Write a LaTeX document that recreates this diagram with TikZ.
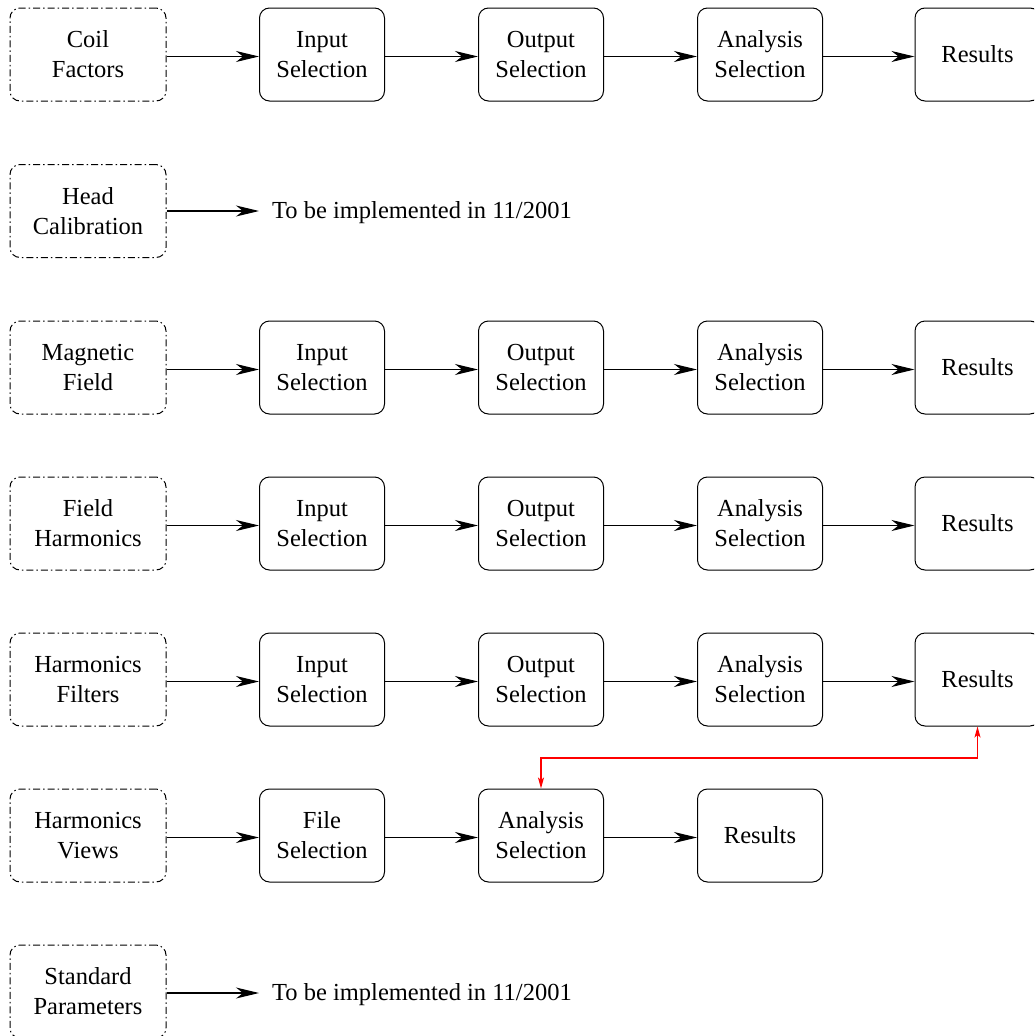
\documentclass[tikz,border=0pt]{standalone}
\usepackage{fontspec}
\setmainfont{Liberation Serif}
\usetikzlibrary{arrows.meta}
\tikzset{
  srcbox/.style={draw, line width=1pt, rounded corners=10pt,
    dash pattern=on 7pt off 3pt on 1.5pt off 3pt,
    minimum width=156pt, minimum height=93pt, inner sep=0pt, align=center,
    font=\fontsize{24.5pt}{30pt}\selectfont},
  procbox/.style={draw, line width=1pt, rounded corners=10pt,
    minimum width=125pt, minimum height=93pt, inner sep=0pt, align=center,
    font=\fontsize{24.5pt}{30pt}\selectfont},
  note/.style={anchor=west, inner sep=0pt, font=\fontsize{24.5pt}{30pt}\selectfont},
  flow/.style={line width=1.1pt, -{Stealth[length=23pt,width=11pt,inset=7pt]}},
  link/.style={red, line width=1.1pt, {Stealth[length=11pt,width=6pt,inset=2.5pt]}-{Stealth[length=11pt,width=6pt,inset=2.5pt]}}
}
\begin{document}
\begin{tikzpicture}[x=1pt,y=-1pt]
\clip (0,0) rectangle (1034,1036);
\useasboundingbox (0,0) rectangle (1034,1036);
% row 1
\node[srcbox]  (r1a) at (88,54.5) {Coil\\Factors};
\node[procbox] (r1b) at (322,54.5) {Input\\Selection};
\node[procbox] (r1c) at (541,54.5) {Output\\Selection};
\node[procbox] (r1d) at (760,54.5) {Analysis\\Selection};
\node[procbox] (r1e) at (977.5,54.5) {Results};
% row 2
\node[srcbox]  (r2a) at (88,211) {Head\\Calibration};
\node[note]    (r2t) at (272,213) {To be implemented in 11/2001};
\coordinate (r2end) at (259,211);
% row 3
\node[srcbox]  (r3a) at (88,367.5) {Magnetic\\Field};
\node[procbox] (r3b) at (322,367.5) {Input\\Selection};
\node[procbox] (r3c) at (541,367.5) {Output\\Selection};
\node[procbox] (r3d) at (760,367.5) {Analysis\\Selection};
\node[procbox] (r3e) at (977.5,367.5) {Results};
% row 4
\node[srcbox]  (r4a) at (88,523.5) {Field\\Harmonics};
\node[procbox] (r4b) at (322,523.5) {Input\\Selection};
\node[procbox] (r4c) at (541,523.5) {Output\\Selection};
\node[procbox] (r4d) at (760,523.5) {Analysis\\Selection};
\node[procbox] (r4e) at (977.5,523.5) {Results};
% row 5
\node[srcbox]  (r5a) at (88,679.5) {Harmonics\\Filters};
\node[procbox] (r5b) at (322,679.5) {Input\\Selection};
\node[procbox] (r5c) at (541,679.5) {Output\\Selection};
\node[procbox] (r5d) at (760,679.5) {Analysis\\Selection};
\node[procbox] (r5e) at (977.5,679.5) {Results};
% row 6
\node[srcbox]  (r6a) at (88,835.5) {Harmonics\\Views};
\node[procbox] (r6b) at (322,835.5) {File\\Selection};
\node[procbox] (r6c) at (541,835.5) {Analysis\\Selection};
\node[procbox] (r6d) at (760,835.5) {Results};
% row 7
\node[srcbox]  (r7a) at (88,991.5) {Standard\\Parameters};
\node[note]    (r7t) at (272,995) {To be implemented in 11/2001};
\coordinate (r7end) at (259,993);
% connectors
\foreach \r in {1,3,4,5}{
  \draw[flow] ([yshift=-2pt]r\r a.east) -- ([yshift=-2pt]r\r b.west);
  \draw[flow] ([yshift=-2pt]r\r b.east) -- ([yshift=-2pt]r\r c.west);
  \draw[flow] ([yshift=-2pt]r\r c.east) -- ([yshift=-2pt]r\r d.west);
  \draw[flow] ([yshift=-2pt]r\r d.east) -- ([yshift=-2pt]r\r e.west);
}
\draw[flow] ([yshift=-2pt]r6a.east) -- ([yshift=-2pt]r6b.west);
\draw[flow] ([yshift=-2pt]r6b.east) -- ([yshift=-2pt]r6c.west);
\draw[flow] ([yshift=-2pt]r6c.east) -- ([yshift=-2pt]r6d.west);
\draw[flow] (r2a.east) -- (r2end);
\draw[flow] (r7a.east |- r7end) -- (r7end);
\draw[link] (r5e.south) -- ++(0,31.5) -| (r6c.north);
\end{tikzpicture}
\end{document}
